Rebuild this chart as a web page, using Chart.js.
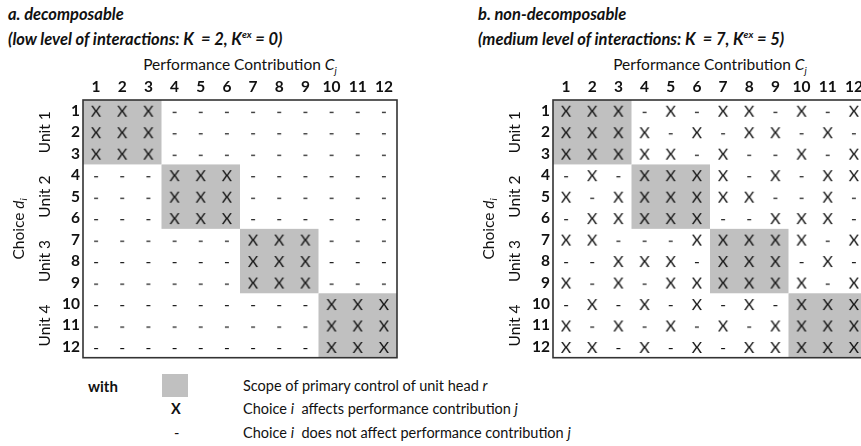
<!DOCTYPE html>
<html>
<head>
<meta charset="utf-8">
<script src="https://cdn.jsdelivr.net/npm/chart.js@4.4.1/dist/chart.umd.min.js"></script>
<style>
    html, body { margin: 0; padding: 0; background: #fff; }
    body { width: 861px; height: 446px; overflow: hidden; position: relative; font-family: Lato, "Open Sans", sans-serif; color: #111; }
    canvas { position: absolute; top: 0; }
    .t { position: absolute; white-space: nowrap; line-height: 18px; }
    .title { font-weight: bold; font-style: italic; font-size: 16.5px; }
    .axis-title { font-size: 15.5px; text-align: center; width: 314px; }
    .legend { font-size: 14.5px; }
    sup { font-size: 10px; vertical-align: 7px; line-height: 0; }
    sub { font-size: 10px; vertical-align: -4px; line-height: 0; font-style: italic; }
</style>
</head>
<body>
<div class="t title" style="left:8px; top:5px;">a. decomposable</div>
<div class="t title" style="left:8px; top:30px;">(low level of interactions: K&nbsp; = 2, K<sup>ex</sup> = 0)</div>
<div class="t axis-title" style="left:83px; top:55px;">Performance Contribution <i>C</i><sub>j</sub></div>

<div class="t title" style="left:478px; top:5px;">b. non-decomposable</div>
<div class="t title" style="left:478px; top:30px;">(medium level of interactions: K&nbsp; = 7, K<sup>ex</sup> = 5)</div>
<div class="t axis-title" style="left:553px; top:55px;">Performance Contribution <i>C</i><sub>j</sub></div>

<canvas id="chartA" width="430" height="370" style="left:0px;"></canvas>
<canvas id="chartB" width="430" height="370" style="left:470px;"></canvas>

<div class="t legend" style="left:88px; top:377px; font-weight:bold; font-size:15px;">with</div>
<div style="position:absolute; left:162px; top:374px; width:26px; height:23px; background:#c0c0c0;"></div>
<div class="t legend" style="left:171px; top:400px; font-weight:bold;">X</div>
<div class="t legend" style="left:174px; top:424px;">-</div>
<div class="t legend" style="left:243px; top:377px;">Scope of primary control of unit head <i>r</i></div>
<div class="t legend" style="left:243px; top:400px;">Choice <i>i</i>&nbsp; affects performance contribution <i>j</i></div>
<div class="t legend" style="left:243px; top:424px;">Choice <i>i</i>&nbsp; does not affect performance contribution <i>j</i></div>

<script>
    // Spaltennummern (Performance Contribution) und Zeilennummern (Choices)
    const columns = [1, 2, 3, 4, 5, 6, 7, 8, 9, 10, 11, 12];
    const choices = [1, 2, 3, 4, 5, 6, 7, 8, 9, 10, 11, 12];
    // Bereiche der Unit-Heads (erste und letzte Choice)
    const units = [[1, 3], [4, 6], [7, 9], [10, 12]];
    const unitLabels = ['Unit 1', 'Unit 2', 'Unit 3', 'Unit 4'];

    // a. decomposable: X = beeinflusst, - = beeinflusst nicht
    const decomposable = [
        'XXX---------',
        'XXX---------',
        'XXX---------',
        '---XXX------',
        '---XXX------',
        '---XXX------',
        '------XXX---',
        '------XXX---',
        '------XXX---',
        '---------XXX',
        '---------XXX',
        '---------XXX'
    ];

    // b. non-decomposable
    const nonDecomposable = [
        'XXX-X-XX-X-X',
        'XXXX-X-XX-X-',
        'XXXXX-X--X-X',
        '-X-XXXX-X-XX',
        'X-XXXXXX--X-',
        '-XXXXX--XXX-',
        'XX---XXXXX-X',
        '--XXX-XXX-X-',
        'X-X-XXXXXX-X',
        '-X-X-X-X-XXX',
        'X-X-X-X-XXXX',
        'XX-X-X-XXXXX'
    ];

    function glyph(ch, font, w, h, dy) {
        const c = document.createElement('canvas');
        c.width = w;
        c.height = h;
        const g = c.getContext('2d');
        g.font = font;
        g.fillStyle = '#111';
        g.textAlign = 'center';
        g.textBaseline = 'middle';
        g.fillText(ch, w / 2, h / 2 + dy);
        return c;
    }

    const xGlyph = glyph('X', '16px Lato', 16, 20, 1);
    const dashGlyph = glyph('-', '16px Lato', 16, 20, 1);

    function cells(matrix, mark) {
        const pts = [];
        matrix.forEach(function (row, r) {
            row.split('').forEach(function (c, k) {
                if (c === mark) pts.push({ x: columns[k], y: choices[r] });
            });
        });
        return pts;
    }

    const matrixDecor = {
        id: 'matrixDecor',
        beforeDatasetsDraw: function (chart) {
            const ctx = chart.ctx, x = chart.scales.x, y = chart.scales.y;
            ctx.save();
            ctx.fillStyle = '#c0c0c0';
            units.forEach(function (u) {
                const x0 = x.getPixelForValue(u[0] - 0.5), x1 = x.getPixelForValue(u[1] + 0.5);
                const y0 = y.getPixelForValue(u[0] - 0.5), y1 = y.getPixelForValue(u[1] + 0.5);
                ctx.fillRect(x0, y0, x1 - x0, y1 - y0);
            });
            ctx.restore();
        },
        afterDraw: function (chart) {
            const ctx = chart.ctx, a = chart.chartArea, y = chart.scales.y;
            ctx.save();
            // Rahmen um die Matrix
            ctx.strokeStyle = '#333';
            ctx.lineWidth = 1.6;
            ctx.strokeRect(a.left, a.top, a.right - a.left, a.bottom - a.top);

            // Unit-Beschriftungen (gedreht)
            ctx.fillStyle = '#111';
            ctx.textAlign = 'center';
            ctx.textBaseline = 'middle';
            ctx.font = '15.5px Lato';
            units.forEach(function (u, i) {
                const cy = (y.getPixelForValue(u[0]) + y.getPixelForValue(u[1])) / 2;
                ctx.save();
                ctx.translate(a.left - 38, cy);
                ctx.rotate(-Math.PI / 2);
                ctx.fillText(unitLabels[i], 0, 0);
                ctx.restore();
            });

            // "Choice d_i"
            const cy = (a.top + a.bottom) / 2;
            ctx.save();
            ctx.translate(a.left - 64, cy);
            ctx.rotate(-Math.PI / 2);
            ctx.textAlign = 'left';
            ctx.font = '15.5px Lato';
            const w1 = ctx.measureText('Choice ').width;
            ctx.font = 'italic 15.5px Lato';
            const w2 = ctx.measureText('d').width;
            ctx.font = 'italic 10px Lato';
            const w3 = ctx.measureText('i').width;
            let px = -(w1 + w2 + w3) / 2;
            ctx.font = '15.5px Lato';
            ctx.fillText('Choice ', px, 0);
            px += w1;
            ctx.font = 'italic 15.5px Lato';
            ctx.fillText('d', px, 0);
            px += w2;
            ctx.font = 'italic 10px Lato';
            ctx.fillText('i', px, 5);
            ctx.restore();
            ctx.restore();
        }
    };

    function makeChart(id, matrix) {
        const ctx = document.getElementById(id).getContext('2d');
        return new Chart(ctx, {
            type: 'scatter',
            data: {
                datasets: [{
                    label: 'affects',
                    data: cells(matrix, 'X'),
                    pointStyle: xGlyph,
                    pointRadius: 8
                }, {
                    label: 'does not affect',
                    data: cells(matrix, '-'),
                    pointStyle: dashGlyph,
                    pointRadius: 8
                }]
            },
            options: {
                responsive: false,
                maintainAspectRatio: false,
                animation: false,
                events: [],
                layout: { padding: { left: 60, top: 66, right: 33, bottom: 8 } },
                plugins: {
                    legend: { display: false },
                    tooltip: { enabled: false }
                },
                scales: {
                    x: {
                        type: 'linear',
                        position: 'top',
                        min: 0.5,
                        max: 12.5,
                        afterBuildTicks: function (s) { s.ticks = columns.map(function (v) { return { value: v }; }); },
                        afterFit: function (s) { s.height = 34; },
                        grid: { display: false, drawTicks: false },
                        border: { display: false },
                        ticks: {
                            autoSkip: false,
                            maxRotation: 0,
                            padding: 4,
                            color: '#111',
                            font: { family: 'Lato', weight: 'bold', size: 15.5 }
                        }
                    },
                    y: {
                        type: 'linear',
                        reverse: true,
                        min: 0.5,
                        max: 12.5,
                        afterBuildTicks: function (s) { s.ticks = choices.map(function (v) { return { value: v }; }); },
                        afterFit: function (s) { s.width = 23; },
                        grid: { display: false, drawTicks: false },
                        border: { display: false },
                        ticks: {
                            autoSkip: false,
                            padding: 3,
                            color: '#111',
                            font: { family: 'Lato', weight: 'bold', size: 15.5 }
                        }
                    }
                }
            },
            plugins: [matrixDecor]
        });
    }

    makeChart('chartA', decomposable);
    makeChart('chartB', nonDecomposable);
</script>
</body>
</html>
